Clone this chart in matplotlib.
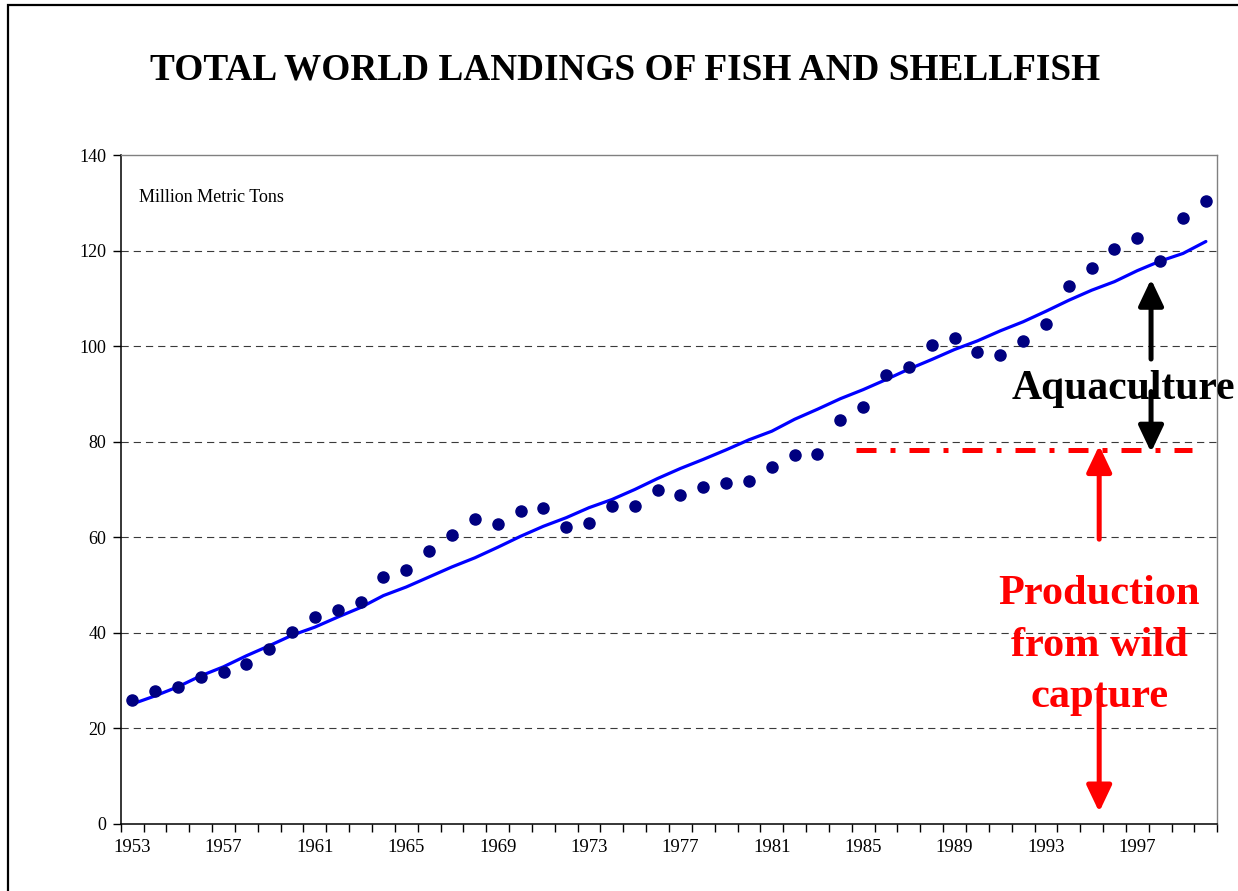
import matplotlib
matplotlib.use("Agg")
import matplotlib.pyplot as plt
from matplotlib.patches import Rectangle
from matplotlib.ticker import FixedLocator

# ---- data -------------------------------------------------------------
years = list(range(1953, 2001))
total_landings = [26.0, 27.8, 28.7, 30.8, 31.8, 33.4, 36.7, 40.2, 43.3, 44.8,
                  46.5, 51.7, 53.1, 57.1, 60.5, 63.8, 62.8, 65.5, 66.1, 62.2,
                  62.9, 66.5, 66.5, 69.8, 68.8, 70.5, 71.3, 71.8, 74.8, 77.2,
                  77.5, 84.5, 87.3, 94.0, 95.7, 100.3, 101.7, 98.7, 98.2, 101.0,
                  104.7, 112.6, 116.3, 120.3, 122.7, 117.9, 126.8, 130.4]
trend = [25.1, 26.8, 28.7, 31.0, 32.9, 35.2, 37.3, 39.5, 41.2, 43.3,
         45.3, 47.8, 49.6, 51.7, 53.8, 55.7, 57.9, 60.2, 62.3, 64.1,
         66.2, 67.9, 70.0, 72.3, 74.4, 76.3, 78.3, 80.4, 82.2, 84.7,
         86.8, 89.0, 90.9, 93.0, 95.2, 97.2, 99.3, 101.1, 103.2, 105.1,
         107.3, 109.6, 111.7, 113.5, 115.8, 117.8, 119.4, 121.9]
year_labels = years[::4]
y_ticks = [0, 20, 40, 60, 80, 100, 120, 140]

wild_capture_level = 78.3          # million metric tons
wild_capture_span = (1984.7, 1999.4)

title = "TOTAL WORLD LANDINGS OF FISH AND SHELLFISH"
units = "Million Metric Tons"
aqua_label = "Aquaculture"
wild_lines = ["Production", "from wild", "capture"]

# ---- figure -----------------------------------------------------------
W, H, DPI = 1238, 891, 100
serif = ["Liberation Serif", "DejaVu Serif"]
plt.rcParams["font.family"] = serif

fig = plt.figure(figsize=(W / DPI, H / DPI), dpi=DPI)
fig.patch.set_facecolor("white")

# outer frame of the slide
fig.patches.append(Rectangle((8 / W, -0.1), 1.2, 1.1 - 5 / H,
                             transform=fig.transFigure, fill=False,
                             edgecolor="black", linewidth=1.6, zorder=0))

left, right, bottom, top = 120.7 / W, 1217.3 / W, 1 - 824 / H, 1 - 155 / H
ax = fig.add_axes([left, bottom, right - left, top - bottom])

pos = [y - years[0] for y in years]      # category positions
ax.set_xlim(-0.5, len(years) - 0.5)
ax.set_ylim(0, 140)

# grid
for v in y_ticks[1:-1]:
    ax.axhline(v, color="#3a3a3a", linewidth=0.8,
               linestyle=(0, (6.5, 4.5)), zorder=1)

# trend line and annual points
ax.plot(pos, trend, color="#0000ff", linewidth=2.3, zorder=3,
        solid_capstyle="round")
ax.plot(pos, total_landings, linestyle="none", marker="o", markersize=8,
        markerfacecolor="#000080", markeredgecolor="#000080", zorder=4)

# wild capture plateau
x0 = wild_capture_span[0] - years[0]
x1 = wild_capture_span[1] - years[0]
ax.plot([x0, x1], [wild_capture_level, wild_capture_level], color="red",
        linewidth=3.6, linestyle=(0, (4.0, 2.8, 1.0, 2.8)),
        dash_capstyle="butt", zorder=3)

# axes styling
for s in ("left", "bottom"):
    ax.spines[s].set_color("black")
    ax.spines[s].set_linewidth(1.1)
for s in ("top", "right"):
    ax.spines[s].set_color("#808080")
    ax.spines[s].set_linewidth(1.0)

ax.set_yticks(y_ticks)
ax.set_yticklabels([str(v) for v in y_ticks])
ax.tick_params(axis="y", direction="out", length=5.5, width=1.0, pad=5,
               labelsize=13, colors="black")

label_idx = [years.index(y) for y in year_labels]
ax.set_xticks(label_idx)
ax.set_xticklabels([str(y) for y in year_labels])
ax.xaxis.set_minor_locator(FixedLocator([p - 0.5 for p in pos] + [pos[-1] + 0.5]))
ax.tick_params(axis="x", which="major", length=0, pad=11, labelsize=13.5)
ax.tick_params(axis="x", which="minor", direction="out", length=5.5, width=1.0)

# texts
fig.text(625.5 / W, 1 - 79 / H, title, ha="center", va="baseline",
         fontsize=26.8, fontweight="bold", color="black")
fig.text(139 / W, 1 - 201.5 / H, units, ha="left", va="baseline",
         fontsize=13, color="black")

# aquaculture arrows
aqua_x = 1997.6 - years[0]
arrow_kw = dict(arrowstyle="-|>,head_length=0.8,head_width=0.38",
                mutation_scale=20, shrinkA=0, shrinkB=0, linewidth=3.6)
ax.annotate("", xy=(aqua_x, 114.0), xytext=(aqua_x, 97.3),
            arrowprops=dict(color="black", **arrow_kw), zorder=5,
            annotation_clip=False)
ax.annotate("", xy=(aqua_x, 77.8), xytext=(aqua_x, 90.5),
            arrowprops=dict(color="black", **arrow_kw), zorder=5,
            annotation_clip=False)
ax.text(38.5, 88.9, aqua_label, ha="left", va="baseline", fontsize=30,
        fontweight="bold", color="black", zorder=6, clip_on=False)

# wild capture arrows
wild_x = 1995.33 - years[0]
ax.annotate("", xy=(wild_x, 79.2), xytext=(wild_x, 59.6),
            arrowprops=dict(color="red", **arrow_kw), zorder=5)
ax.annotate("", xy=(wild_x, 2.5), xytext=(wild_x, 27.4),
            arrowprops=dict(color="red", **arrow_kw), zorder=5)
for line, yb in zip(wild_lines, [46.0, 35.2, 24.5]):
    ax.text(wild_x, yb, line, ha="center", va="baseline", fontsize=30.5,
            fontweight="bold", color="red", zorder=6)

fig.savefig("out.png", dpi=DPI)
